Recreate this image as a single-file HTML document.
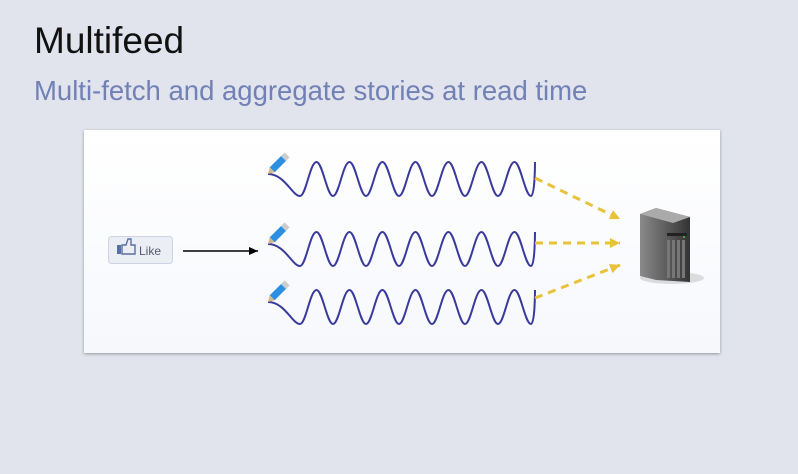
<!DOCTYPE html>
<html><head><meta charset="utf-8"><style>
body{margin:0;width:798px;height:474px;background:#e1e4ed;font-family:"Liberation Sans",sans-serif;position:relative;overflow:hidden}
#title{position:absolute;left:34px;top:20px;font-size:37px;color:#111}
#sub{position:absolute;left:34px;top:75px;font-size:27.5px;color:#7180b5}
#panel{position:absolute;left:84px;top:130px;width:636px;height:223px;background:linear-gradient(#fff,#f6f8fc);box-shadow:0 1px 3px rgba(0,0,0,.35)}
</style></head><body>
<div id="title">Multifeed</div>
<div id="sub">Multi-fetch and aggregate stories at read time</div>
<div id="panel"></div>
<svg width="798" height="474" style="position:absolute;left:0;top:0">
<defs><marker id="ab" markerUnits="userSpaceOnUse" markerWidth="10" markerHeight="10" refX="9" refY="5" orient="auto"><path d="M0,1L9,5L0,9z" fill="#000"/></marker>
<marker id="ay" markerUnits="userSpaceOnUse" markerWidth="12" markerHeight="12" refX="10" refY="6" orient="auto"><path d="M0,1L10,6L0,11z" fill="#e8c23a"/></marker>
<linearGradient id="sv" x1="0" x2="1"><stop offset="0" stop-color="#8a8a8a"/><stop offset="1" stop-color="#333"/></linearGradient></defs>
<g>
<rect x="108.5" y="236.5" width="64" height="27" rx="3" fill="#eceef6" stroke="#cdd3e4"/>
<rect x="117" y="245" width="4" height="9" fill="#5a6fa3"/><path d="M122,245h4l2-6h3v6h4v9h-13z" fill="none" stroke="#5a6fa3" stroke-width="1.4"/>
<text x="139" y="255" font-size="12" fill="#555b70" font-family="Liberation Sans,sans-serif">Like</text></g>
<line x1="183" y1="251" x2="258" y2="251" stroke="#000" stroke-width="1.5" marker-end="url(#ab)"/>
<g id="waves"></g>
<g stroke="#e8c23a" stroke-width="3" stroke-dasharray="8,6" fill="none">
<line x1="535" y1="178" x2="620" y2="219" marker-end="url(#ay)"/>
<line x1="535" y1="243" x2="620" y2="243" marker-end="url(#ay)"/>
<line x1="535" y1="298" x2="620" y2="265" marker-end="url(#ay)"/></g>
<g>
<ellipse cx="672" cy="278" rx="32" ry="6" fill="rgba(0,0,0,.12)"/>
<path d="M640,214l16-6l34,9v65l-34-2l-16,-4z" fill="url(#sv)"/>
<path d="M640,214l16-6l34,9l-17,6z" fill="#aaa"/>
<rect x="667" y="233" width="20" height="3" fill="#222"/>
<rect x="667" y="240" width="3" height="38" fill="#777"/><rect x="672" y="240" width="3" height="38" fill="#777"/><rect x="677" y="240" width="3" height="38" fill="#777"/><rect x="682" y="240" width="3" height="38" fill="#777"/>
<circle cx="684" cy="237" r="1" fill="#4c4"/></g>
</svg>
<script>
const rowsY=[179,249,307];
const g=document.getElementById('waves');
rowsY.forEach((cy,i)=>{
 const tipY=cy-5;
 let d=`M268,${tipY} C285,${tipY} 292,${cy+17} 300,${cy+17}`;
 const per=33, amp=17, x0=300;
 let x=x0;
 for(let k=0;k<7;k++){
   d+=` C${x+6},${cy+17} ${x+10},${cy-amp} ${x+per/2},${cy-amp}`;
   d+=` C${x+per/2+6},${cy-amp} ${x+per-6},${cy+17} ${x+per},${cy+17}`;
   x+=per;
 }
 d+=` C${x+4},${cy+17} ${x+4},${cy-amp} ${x+4},${cy-amp}`;
 const p=document.createElementNS('http://www.w3.org/2000/svg','path');
 p.setAttribute('d',d);p.setAttribute('fill','none');p.setAttribute('stroke','#3a3a9a');p.setAttribute('stroke-width','2');
 
 
 g.appendChild(p);
 const pen=document.createElementNS('http://www.w3.org/2000/svg','g');
 
 
 pen.innerHTML=`<g transform="translate(268,${tipY}) rotate(-45)"><path d="M0,0l6,-3.5v7z" fill="#d9b98a"/><rect x="6" y="-3.5" width="16" height="7" fill="#2d8fe0"/><rect x="22" y="-3.5" width="5" height="7" fill="#ccc"/></g>`;
 g.appendChild(pen);
});
</script>
</body></html>
